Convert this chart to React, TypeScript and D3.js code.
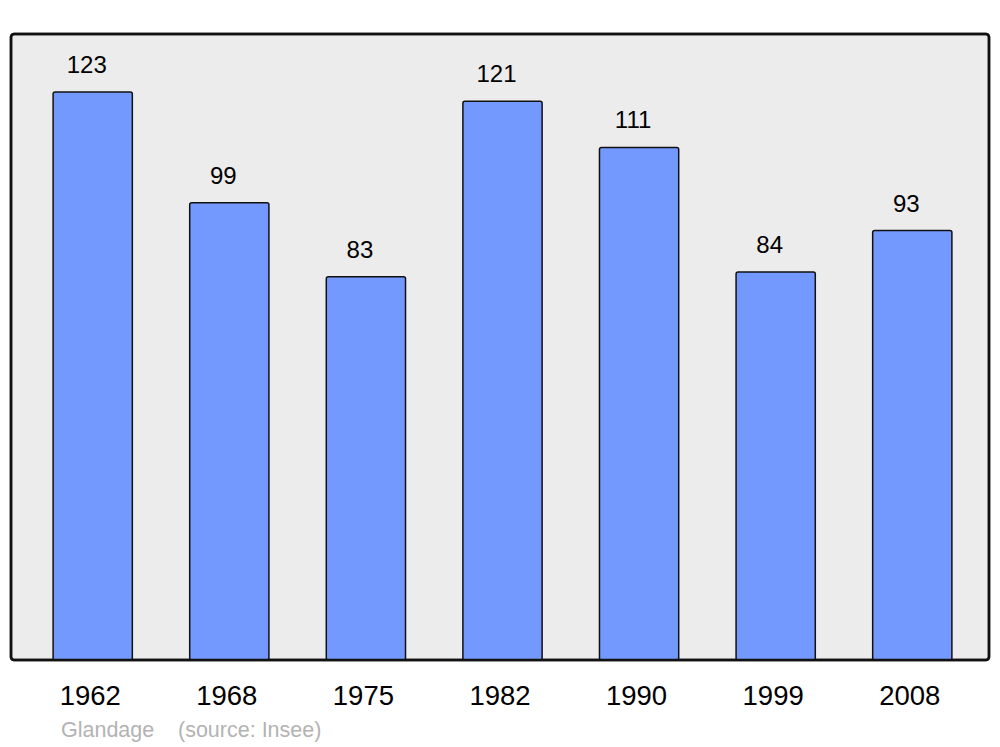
import React from "react";
import * as d3 from "d3";

const years = ["1962", "1968", "1975", "1982", "1990", "1999", "2008"];
const population = [123, 99, 83, 121, 111, 84, 93];
const townName = "Glandage";
const sourceText = "(source: Insee)";

export default function App() {
  const W = 1000, H = 747;
  const frame = { x0: 11, y0: 34, x1: 989, y1: 660 };
  const x = d3.scaleBand<string>().domain(years).range([13.5, 991.5]).paddingInner(0.42).paddingOuter(0.29);
  const y = d3.scaleLinear().domain([0, 135.55]).range([frame.y1, frame.y0]);
  const font = "'Liberation Sans', Arial, sans-serif";
  return (
    <svg width={W} height={H} style={{ position: "absolute", left: 0, top: 0 }} fontFamily={font}>
      <rect x={0} y={0} width={W} height={H} fill="#ffffff" />
      <rect x={frame.x0} y={frame.y0} width={frame.x1 - frame.x0} height={frame.y1 - frame.y0} rx={3} fill="#ececec" stroke="#111" strokeWidth={2.5} />
      {years.map((yr, i) => {
        const bx = x(yr)!;
        const bw = x.bandwidth();
        const top = y(population[i]);
        return (
          <g key={yr}>
            <rect x={bx} y={top} width={bw} height={frame.y1 - top} rx={2} fill="#7399ff" stroke="#111" strokeWidth={1.5} />
            <text x={bx + bw / 2 - 6} y={top - 19} textAnchor="middle" fontSize={24} fill="#000">{population[i]}</text>
            <text x={bx + bw / 2 - 2.5} y={705} textAnchor="middle" fontSize={27.5} fill="#000">{yr}</text>
          </g>
        );
      })}
      <rect x={frame.x0} y={frame.y0} width={frame.x1 - frame.x0} height={frame.y1 - frame.y0} rx={3} fill="none" stroke="#111" strokeWidth={2.5} />
      <text x={61} y={737} fontSize={21.5} fill="#b3b3b3">{townName}</text>
      <text x={178} y={737} fontSize={21.5} fill="#b3b3b3">{sourceText}</text>
    </svg>
  );
}
